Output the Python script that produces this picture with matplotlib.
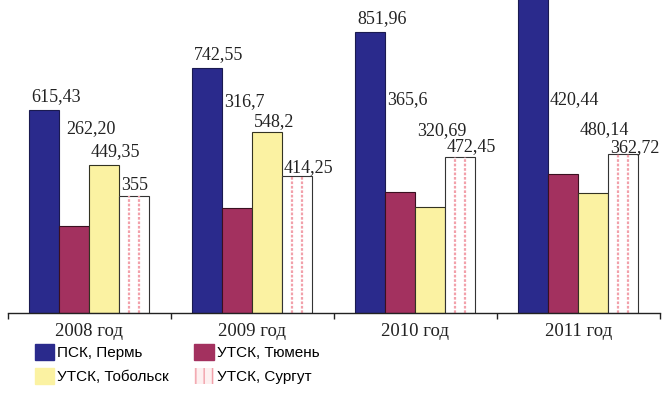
import numpy as np
import matplotlib
matplotlib.use("Agg")
import matplotlib.pyplot as plt
from matplotlib.patches import Patch

years = ["2008 год", "2009 год", "2010 год", "2011 год"]
series = ["ПСК, Пермь", "УТСК, Тюмень", "УТСК, Тобольск", "УТСК, Сургут"]

# bar heights as drawn in the picture
perm = [615.43, 742.55, 851.96, 990.0]
tyumen = [262.20, 316.7, 365.6, 420.44]
tobolsk = [449.35, 548.2, 320.69, 362.72]
surgut = [355, 414.25, 472.45, 480.14]

# value captions as printed (2011 Perm caption is cut off the top)
perm_txt = ["615,43", "742,55", "851,96", None]
tyumen_txt = ["262,20", "316,7", "365,6", "420,44"]
tobolsk_txt = ["449,35", "548,2", "320,69", "480,14"]
surgut_txt = ["355", "414,25", "472,45", "362,72"]

# caption heights (value units)
tyumen_cap_y = [558, 639, 645, 645]
tobolsk_cap_y = [488, 579, 552, 555]
surgut_cap_y = [385, 439, 503, 500]

colors = ["#2a2a8c", "#a3315f", "#fbf2a2", "white"]
PINK = "#f2a0aa"
SERIF = ["Liberation Serif", "DejaVu Serif"]
NARROW = ["Liberation Sans Narrow", "Liberation Sans", "DejaVu Sans"]

fig = plt.figure(figsize=(6.65, 4.0), dpi=100)
ax = fig.add_axes([0.012, 0.2175, 0.980, 0.7825])

x = np.arange(len(years))
w = 0.184
offs = [-1.5 * w, -0.5 * w, 0.5 * w, 1.5 * w]

ax.bar(x + offs[0], perm, w, color=colors[0], edgecolor="#1a1a50", linewidth=0.8)
ax.bar(x + offs[1], tyumen, w, color=colors[1], edgecolor="#3a1020", linewidth=0.8)
ax.bar(x + offs[2], tobolsk, w, color=colors[2], edgecolor="#333322", linewidth=0.8)
# Surgut: white with two dotted pink stripes
ax.bar(x + offs[3], surgut, w, color="white", linewidth=0)
for frac in (1 / 3, 2 / 3):
    ax.vlines(x + offs[3] - w / 2 + frac * w, 0, surgut, colors=PINK,
              linewidth=1.6, linestyles=(0, (1.2, 0.8)))
ax.bar(x + offs[3], surgut, w, color="none", edgecolor="#333333", linewidth=0.8)

tstyle = dict(fontsize=13, family=SERIF, color="#222222", ha="left", va="center")
pad = 0.01
for i in range(len(years)):
    if perm_txt[i] is not None:
        ax.text(x[i] + offs[0] - w / 2 + pad, perm[i] + 40, perm_txt[i], **tstyle)
    ax.text(x[i] + offs[1] - w / 2 + pad + (0.03 if i == 0 else 0), tyumen_cap_y[i], tyumen_txt[i], **tstyle)
    ax.text(x[i] + offs[2] - w / 2 + pad, tobolsk_cap_y[i], tobolsk_txt[i], **tstyle)
    ax.text(x[i] + offs[3] - w / 2 + pad, surgut_cap_y[i], surgut_txt[i], **tstyle)

ax.set_xlim(-0.5, 3.5)
ax.set_ylim(0, 948)
for s in ["top", "right", "left"]:
    ax.spines[s].set_visible(False)
ax.spines["bottom"].set_color("#222222")
ax.spines["bottom"].set_linewidth(1.0)
ax.set_yticks([])
ax.set_xticks(x)
ax.set_xticklabels(years, fontsize=13.5, family=SERIF, color="#222222")
ax.tick_params(axis="x", which="major", length=0, pad=7)
ax.set_xticks(np.arange(-0.5, 4, 1), minor=True)
ax.tick_params(axis="x", which="minor", length=4, width=1, direction="out", color="#222222")

handles = [
    Patch(facecolor=colors[0], edgecolor=colors[0]),
    Patch(facecolor=colors[2], edgecolor=colors[2]),
    Patch(facecolor=colors[1], edgecolor=colors[1]),
    Patch(facecolor="#fdf0f0", edgecolor=PINK, hatch="||", linewidth=0),
]
labels = [series[0], series[2], series[1], series[3]]
fig.legend(handles, labels, loc="upper left", bbox_to_anchor=(0.052, 0.14),
           ncol=2, frameon=False, prop={"family": NARROW, "size": 11},
           handlelength=1.3, handleheight=1.2, handletextpad=0.2,
           columnspacing=1.6, labelspacing=0.55, borderpad=0, borderaxespad=0)

fig.savefig("out.png", dpi=100)
